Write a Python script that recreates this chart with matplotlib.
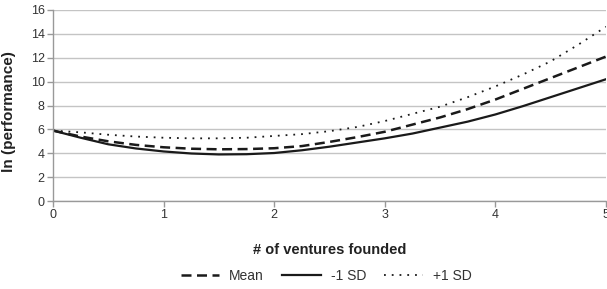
import matplotlib
matplotlib.use("Agg")
import matplotlib.pyplot as plt

plt.rcParams['font.family'] = ['Liberation Sans', 'DejaVu Sans']

x = [0, 0.25, 0.5, 0.75, 1, 1.25, 1.5, 1.75, 2, 2.25, 2.5, 2.75, 3, 3.25, 3.5, 3.75, 4, 4.25, 4.5, 4.75, 5]
mean = [5.9, 5.4, 5.0, 4.7, 4.5, 4.38, 4.33, 4.35, 4.42, 4.6, 4.95, 5.35, 5.8, 6.4, 7.0, 7.7, 8.5, 9.4, 10.3, 11.2, 12.1]
minus_sd = [5.9, 5.3, 4.75, 4.4, 4.15, 3.98, 3.9, 3.92, 4.02, 4.25, 4.55, 4.9, 5.25, 5.65, 6.15, 6.65, 7.25, 7.95, 8.7, 9.45, 10.2]
plus_sd = [5.9, 5.75, 5.55, 5.4, 5.3, 5.25, 5.25, 5.3, 5.45, 5.6, 5.85, 6.2, 6.7, 7.3, 7.9, 8.7, 9.6, 10.6, 11.7, 13.1, 14.6]
xticks = [0, 1, 2, 3, 4, 5]
yticks = [0, 2, 4, 6, 8, 10, 12, 14, 16]

fig = plt.figure(figsize=(6.07, 2.89), dpi=100)
ax = fig.add_axes([53/607, 1 - 201/289, (606 - 53)/607, (201 - 10)/289])

ax.plot(x, mean, color='#1a1a1a', lw=1.8, ls=(0, (4, 2.2)), label='Mean')
ax.plot(x, minus_sd, color='#1a1a1a', lw=1.6, ls='-', label='-1 SD')
ax.plot(x, plus_sd, color='#1a1a1a', lw=1.3, ls=(0, (1, 3.3)), label='+1 SD')

ax.set_xlim(0, 5)
ax.set_ylim(0, 16)
ax.set_xticks(xticks)
ax.set_yticks(yticks)
ax.grid(axis='y', color='#c4c4c4', lw=1.0)
ax.set_axisbelow(True)
for s in ['top', 'right']:
    ax.spines[s].set_visible(False)
for s in ['left', 'bottom']:
    ax.spines[s].set_color('#999999')
    ax.spines[s].set_linewidth(1.0)
ax.tick_params(axis='both', colors='#999999', labelcolor='#333333', labelsize=9, length=4, width=1.0)
ax.tick_params(axis='y', pad=2)
ax.tick_params(axis='x', pad=2)

ax.set_xlabel('# of ventures founded', fontsize=10.5, fontweight='bold', color='#222222')
ax.xaxis.set_label_coords((330 - 53)/553, -(243 - 201)/191)
ax.set_ylabel('ln (performance)', fontsize=11, fontweight='bold', color='#222222')
ax.yaxis.set_label_coords(-(53 - 16)/553, (201 - 112)/191)

fig.legend(loc='center', bbox_to_anchor=(326/607, 1 - 276/289), ncol=3, frameon=False,
           fontsize=10, handlelength=2.8, columnspacing=1.3, handletextpad=0.7,
           labelcolor='#333333')

fig.savefig('out.png', dpi=100)
